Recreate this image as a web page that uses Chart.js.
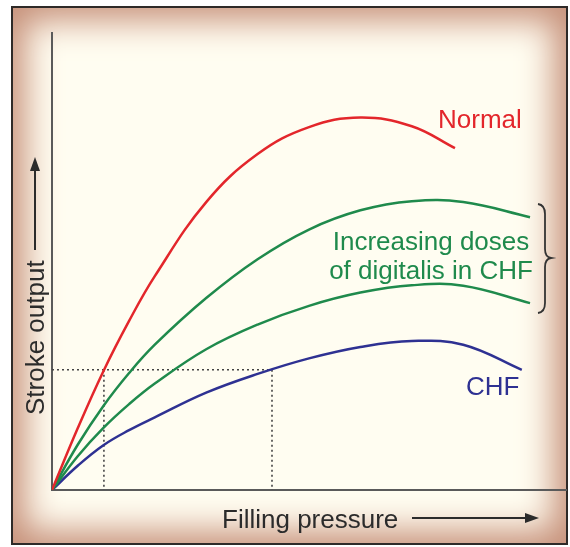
<!DOCTYPE html>
<html>
<head>
<meta charset="utf-8">
<script src="https://cdn.jsdelivr.net/npm/chart.js@4.4.1/dist/chart.umd.min.js"></script>
<style>
  html, body { margin: 0; padding: 0; background: #fff; }
  #wrap { position: relative; width: 570px; height: 547px; }
  #frame {
    position: absolute; left: 11px; top: 6px; width: 553px; height: 535px;
    border: 2px solid #2e2a28; background: #fffdf1;
    box-shadow: inset 0 0 34px 12px #c68f78;
  }
  canvas { position: absolute; left: 0; top: 0; }
</style>
</head>
<body>
<div id="wrap">
  <div id="frame"></div>
  <canvas id="chart" width="570" height="547"></canvas>
</div>
<script>
// filling pressure (x) vs stroke output (y), arbitrary units 0-100
const normalX = [0, 5, 10, 15, 20, 30, 40, 50, 60, 70, 78.4];
const normalY = [0, 13.5, 26.0, 37.0, 46.8, 63.0, 73.5, 79.4, 81.5, 79.6, 74.8];

const digHighX = [0, 5, 10, 15, 20, 30, 40, 50, 60, 70, 80, 93];
const digHighY = [0, 9.9, 18.4, 25.6, 31.8, 42.0, 50.5, 57.0, 61.2, 63.2, 63.0, 59.7];

const digLowX = [0, 5, 10, 15, 20, 30, 40, 50, 60, 70, 80, 93];
const digLowY = [0, 7.4, 13.6, 18.8, 23.3, 30.8, 36.2, 40.3, 43.2, 44.8, 44.7, 40.9];

const chfX = [0, 5, 10, 15, 20, 30, 40, 50, 60, 70, 80, 91.4];
const chfY = [0, 5.3, 9.8, 13.1, 15.9, 21.3, 25.4, 28.8, 31.3, 32.6, 31.8, 26.3];

// dotted reference: same output reached at two filling pressures
const refOutput = 26.3;
const refPressureNormal = 10.1;
const refPressureCHF = 42.8;

const RED = "#e3262b", GREEN = "#1f8a4c", BLUE = "#2e3192", INK = "#2b2b2b";
const FONT = '26px "Liberation Sans", Arial, sans-serif';

function pts(xs, ys) {
  return xs.map((x, i) => ({ x: x, y: ys[i] }));
}

function curve(label, xs, ys, color) {
  return {
    label: label,
    data: pts(xs, ys),
    borderColor: color,
    borderWidth: 2.5,
    pointRadius: 0,
    fill: false,
    tension: 0.4,
  };
}

function guide(xs, ys) {
  return {
    label: "guide",
    data: pts(xs, ys),
    borderColor: "#444",
    borderWidth: 1.6,
    borderDash: [2, 3],
    pointRadius: 0,
    tension: 0,
    fill: false,
  };
}

function arrow(ctx, x1, y1, x2, y2) {
  const a = Math.atan2(y2 - y1, x2 - x1);
  const len = 14, half = 5;
  ctx.beginPath();
  ctx.moveTo(x1, y1);
  ctx.lineTo(x2 - Math.cos(a) * len, y2 - Math.sin(a) * len);
  ctx.stroke();
  ctx.beginPath();
  ctx.moveTo(x2, y2);
  ctx.lineTo(x2 - Math.cos(a) * len - Math.sin(a) * half, y2 - Math.sin(a) * len + Math.cos(a) * half);
  ctx.lineTo(x2 - Math.cos(a) * len + Math.sin(a) * half, y2 - Math.sin(a) * len - Math.cos(a) * half);
  ctx.closePath();
  ctx.fill();
}

const annotate = {
  id: "annotate",
  afterDraw(chart) {
    const ctx = chart.ctx;
    ctx.save();
    ctx.font = FONT;
    ctx.textBaseline = "alphabetic";

    ctx.fillStyle = RED;
    ctx.textAlign = "left";
    ctx.fillText("Normal", 438, 128);

    ctx.fillStyle = GREEN;
    ctx.textAlign = "center";
    ctx.fillText("Increasing doses", 431, 250);
    ctx.fillText("of digitalis in CHF", 431, 279);

    ctx.fillStyle = BLUE;
    ctx.textAlign = "left";
    ctx.fillText("CHF", 466, 395);

    // axis titles with arrows
    ctx.fillStyle = INK;
    ctx.strokeStyle = INK;
    ctx.lineWidth = 2;
    ctx.fillText("Filling pressure", 222, 528);
    arrow(ctx, 412, 518, 539, 518);

    ctx.save();
    ctx.translate(44, 415);
    ctx.rotate(-Math.PI / 2);
    ctx.fillText("Stroke output", 0, 0);
    ctx.restore();
    arrow(ctx, 35, 250, 35, 157);

    // brace grouping the digitalis curves
    ctx.strokeStyle = "#333";
    ctx.lineWidth = 1.8;
    ctx.beginPath();
    ctx.moveTo(538, 204);
    ctx.quadraticCurveTo(545, 205, 545, 214);
    ctx.lineTo(545, 249);
    ctx.quadraticCurveTo(545, 257, 551, 258);
    ctx.quadraticCurveTo(545, 259, 545, 267);
    ctx.lineTo(545, 303);
    ctx.quadraticCurveTo(545, 312, 538, 313);
    ctx.stroke();
    ctx.restore();
  }
};

new Chart(document.getElementById("chart"), {
  type: "line",
  data: {
    datasets: [
      curve("Normal", normalX, normalY, RED),
      curve("Digitalis high", digHighX, digHighY, GREEN),
      curve("Digitalis low", digLowX, digLowY, GREEN),
      curve("CHF", chfX, chfY, BLUE),
      guide([0, refPressureCHF, refPressureCHF], [refOutput, refOutput, 0]),
      guide([refPressureNormal, refPressureNormal], [refOutput, 0]),
    ]
  },
  options: {
    responsive: false,
    animation: false,
    layout: { padding: { left: 44, top: 33, right: 4, bottom: 49 } },
    plugins: { legend: { display: false }, tooltip: { enabled: false } },
    scales: {
      x: {
        type: "linear", min: 0, max: 100,
        grid: { display: false },
        ticks: { display: false },
        border: { display: true, color: "#5a5a5a", width: 2 }
      },
      y: {
        type: "linear", min: 0, max: 100,
        grid: { display: false },
        ticks: { display: false },
        border: { display: true, color: "#5a5a5a", width: 2 }
      }
    }
  },
  plugins: [annotate]
});
</script>
</body>
</html>
